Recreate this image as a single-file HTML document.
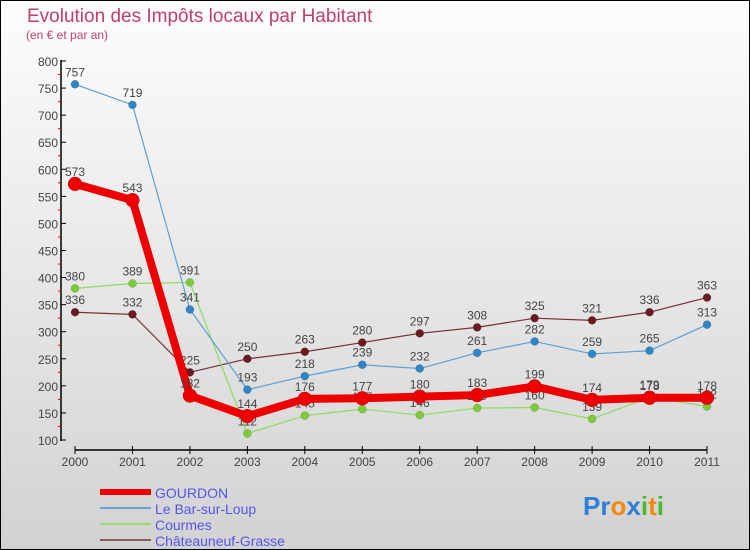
<!DOCTYPE html>
<html><head><meta charset="utf-8"><style>
body{margin:0}
#wrap{width:750px;height:550px;position:relative;overflow:hidden;background:linear-gradient(#fdfdfd,#d2d2d2);font-family:"Liberation Sans",sans-serif;box-sizing:border-box;border:1px solid #000}
</style></head><body>
<div id="wrap">
<svg id="c" width="750" height="550" xmlns="http://www.w3.org/2000/svg" style="position:absolute;left:-1px;top:-1px"></svg>
</div>
<script>
const years=[2000,2001,2002,2003,2004,2005,2006,2007,2008,2009,2010,2011];
const gourdon=[573,543,182,144,176,177,180,183,199,174,178,178];
const bar=[757,719,341,193,218,239,232,261,282,259,265,313];
const courmes=[380,389,391,112,145,157,146,159,160,139,179,162];
const chat=[336,332,225,250,263,280,297,308,325,321,336,363];
const yTicks=[100,150,200,250,300,350,400,450,500,550,600,650,700,750,800];
const svg=document.getElementById('c');const NS='http://www.w3.org/2000/svg';
function X(i){return 75+i*(707-75)/11}
function Y(v){return 440-(v-100)*(379/700)}
function el(t,a,name,txt){const e=document.createElementNS(NS,t);for(const k in a)e.setAttribute(k,a[k]);


if(txt!==undefined)e.textContent=txt;svg.appendChild(e);return e}
el('text',{x:27,y:22,'font-size':19,fill:'#c0406a'},'chart-title','Evolution des Impôts locaux par Habitant');
el('text',{x:26,y:39,'font-size':12,fill:'#c0406a'},'chart-subtitle','(en € et par an)');
el('line',{x1:61,y1:60,x2:61,y2:441,stroke:'#000','stroke-width':1.5},'y-axis');
yTicks.forEach(v=>{el('line',{x1:61,y1:Y(v),x2:66,y2:Y(v),stroke:'#000'},'y-tick');
el('text',{x:58,y:Y(v)+5,'font-size':12,fill:'#444','text-anchor':'end'},'y-tick-label',v);
if(v<800)el('line',{x1:58,y1:Y(v+25),x2:61,y2:Y(v+25),stroke:'#e00'},'y-minor-tick');});
el('line',{x1:75,y1:450,x2:707,y2:450,stroke:'#000','stroke-width':1.5},'x-axis');
years.forEach((y,i)=>{el('line',{x1:X(i),y1:446,x2:X(i),y2:454,stroke:'#000'},'x-tick');
el('text',{x:X(i),y:466,'font-size':12,fill:'#444','text-anchor':'middle'},'x-tick-label',y)});
function series(d,color,w,r,name,dot){
el('polyline',{points:d.map((v,i)=>X(i)+','+Y(v)).join(' '),fill:'none',stroke:color,'stroke-width':w,'stroke-linejoin':'round'},name+'-line');
d.forEach((v,i)=>{el('circle',{cx:X(i),cy:Y(v),r:r,fill:dot,stroke:'rgba(0,0,0,0.25)','stroke-width':0.5},name+'-point');
el('text',{x:X(i),y:Y(v)-8,'font-size':12,fill:'#444','text-anchor':'middle'},name+'-value',v)});}
series(chat,'#7a2d36',1.2,4,'chateauneuf','#6b1a22');
series(courmes,'#8fdc5a',1.2,4,'courmes','#7ccc3a');
series(bar,'#5ca0d8',1.2,4,'bar-sur-loup','#2e86c8');
series(gourdon,'#ee0000',8,7,'gourdon','#ee0000');
const leg=[['GOURDON','#ee0000',6],['Le Bar-sur-Loup','#6aa2cc',2],['Courmes','#99db6e',2],['Châteauneuf-Grasse','#8b5a5a',2]];
leg.forEach((l,i)=>{const y=492+i*16;
el('line',{x1:100,y1:y,x2:151,y2:y,stroke:l[1],'stroke-width':l[2]},'legend-swatch');
el('text',{x:155,y:y+6,'font-size':14,fill:'#5555ee'},'legend-entry',l[0]);});
const logo=el('text',{x:583,y:515,'font-size':26,'font-weight':'bold'},'proxiti-logo');
[['Pr','#2e7fd8'],['o','#f08a10'],['x','#2e7fd8'],['i','#4cb82e'],['t','#f08a10'],['i','#4cb82e']].forEach(p=>{const s=document.createElementNS(NS,'tspan');s.setAttribute('fill',p[1]);s.textContent=p[0];logo.appendChild(s)});
</script>
</body></html>
